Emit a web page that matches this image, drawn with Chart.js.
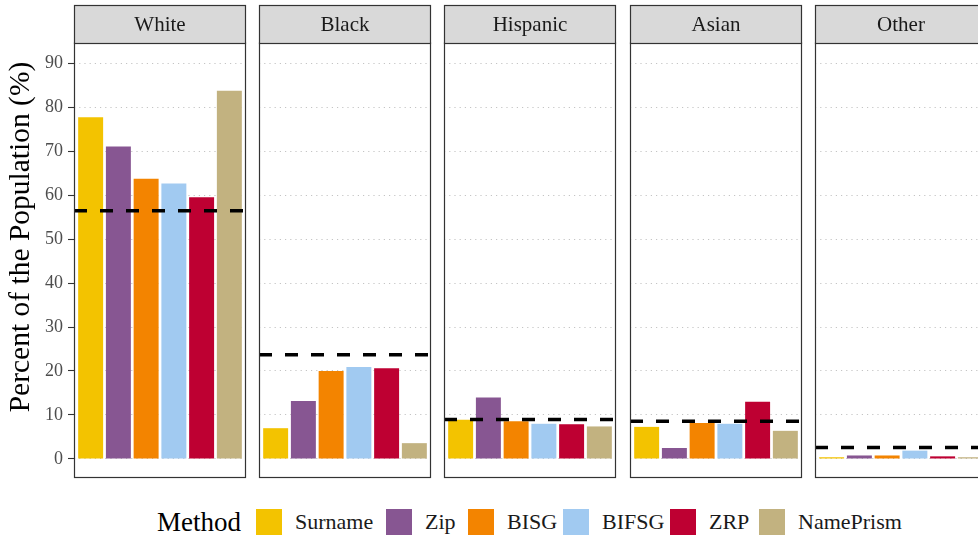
<!DOCTYPE html>
<html>
<head>
<meta charset="utf-8">
<script src="https://cdn.jsdelivr.net/npm/chart.js@4.4.1/dist/chart.umd.min.js"></script>
<style>
  html, body { margin: 0; padding: 0; background: #fff; }
  body { width: 978px; height: 537px; overflow: hidden; position: relative;
         font-family: "Liberation Serif", serif; }
  canvas { position: absolute; top: 0; }
  .lg-title { position: absolute; left: 157px; top: 505px; font-size: 27px; color: #000; line-height: 34px; }
  .lg-key { position: absolute; top: 509px; width: 26px; height: 26px; }
  .lg-label { position: absolute; top: 508px; font-size: 22px; color: #1a1a1a; line-height: 28px; white-space: nowrap; }
</style>
</head>
<body>
<script>
// ---- data -------------------------------------------------------------
const races   = ['White', 'Black', 'Hispanic', 'Asian', 'Other'];
const methods = ['Surname', 'Zip', 'BISG', 'BIFSG', 'ZRP', 'NamePrism'];

// Predicted share (%) of each group, by method (order follows `methods`)
const whiteShare    = [77.7, 71.0, 63.7, 62.6, 59.5, 83.7];
const blackShare    = [7.0, 13.2, 20.0, 20.9, 20.6, 3.6];
const hispanicShare = [8.9, 14.0, 8.6, 8.0, 7.9, 7.4];
const asianShare    = [7.3, 2.5, 8.2, 8.0, 13.0, 6.4];
const otherShare    = [0.4, 0.8, 0.8, 1.9, 0.6, 0.4];

// Actual population share (%) — dashed reference line per panel
const populationShare = [56.4, 23.7, 9.0, 8.6, 2.6];

const yTicks = [0, 10, 20, 30, 40, 50, 60, 70, 80, 90];

// ---- styling ----------------------------------------------------------
const methodColors = ['#F3C300', '#875692', '#F38400', '#A1CAF1', '#BE0032', '#C2B280'];
const seriesByRace = [whiteShare, blackShare, hispanicShare, asianShare, otherShare];

const PANEL_LEFT = [74, 259, 444, 630, 815];
const PANEL_W = 172;
const STRIP_TOP = 5;
const AREA_TOP = 43;
const AREA_BOTTOM = 478;
const CANVAS_H = 505;
const Y_MIN = -4.32, Y_MAX = 94.55;
const X_MIN = -0.6, X_MAX = methods.length - 1 + 0.6;
const FONT = '"Liberation Serif", serif';

Chart.defaults.font.family = FONT;

// Panel border, facet strip and (first panel) the y-axis title
const panelFrame = {
  id: 'panelFrame',
  afterDraw(chart, args, opts) {
    const { ctx, chartArea: a } = chart;
    ctx.save();
    ctx.strokeStyle = '#333333';
    ctx.lineWidth = 1.2;
    ctx.strokeRect(a.left + 0.5, a.top, a.width - 1, a.height - 0.5);
    ctx.fillStyle = '#d9d9d9';
    ctx.fillRect(a.left + 0.5, STRIP_TOP + 0.5, a.width - 1, a.top - STRIP_TOP);
    ctx.strokeRect(a.left + 0.5, STRIP_TOP + 0.5, a.width - 1, a.top - STRIP_TOP);
    ctx.fillStyle = '#1a1a1a';
    ctx.font = '21px ' + FONT;
    ctx.textAlign = 'center';
    ctx.textBaseline = 'middle';
    ctx.fillText(opts.label, (a.left + a.right) / 2, (STRIP_TOP + a.top) / 2 + 1);
    if (opts.yTitle) {
      ctx.translate(21, 237);
      ctx.rotate(-Math.PI / 2);
      ctx.fillStyle = '#000';
      ctx.font = '29.5px ' + FONT;
      ctx.fillText(opts.yTitle, 0, 0);
    }
    ctx.restore();
  }
};

function drawPanel(idx) {
  const first = idx === 0;
  const canvasLeft = first ? 0 : PANEL_LEFT[idx] - 1;
  const canvasW = PANEL_LEFT[idx] + PANEL_W + 1 - canvasLeft;
  const canvas = document.createElement('canvas');
  canvas.width = canvasW;
  canvas.height = CANVAS_H;
  canvas.style.left = canvasLeft + 'px';
  canvas.style.width = canvasW + 'px';
  canvas.style.height = CANVAS_H + 'px';
  document.body.appendChild(canvas);

  const values = seriesByRace[idx];
  const ref = populationShare[idx];

  new Chart(canvas, {
    type: 'bar',
    data: {
      datasets: [
        {
          type: 'line',
          data: [{ x: X_MIN, y: ref }, { x: X_MAX, y: ref }],
          borderColor: '#000',
          borderWidth: 3.5,
          borderDash: [13, 13],
          pointRadius: 0,
          order: 0
        },
        {
          type: 'bar',
          data: values.map((v, i) => ({ x: i, y: v })),
          backgroundColor: methodColors,
          borderWidth: 0,
          barPercentage: 0.9,
          categoryPercentage: 1,
          order: 1
        }
      ]
    },
    options: {
      responsive: false,
      animation: false,
      events: [],
      layout: { padding: { top: AREA_TOP, bottom: CANVAS_H - AREA_BOTTOM, left: first ? 0 : 1, right: 1 } },
      plugins: {
        legend: { display: false },
        tooltip: { enabled: false },
        panelFrame: { label: races[idx], yTitle: first ? 'Percent of the Population (%)' : null }
      },
      scales: {
        x: { type: 'linear', min: X_MIN, max: X_MAX, offset: false, display: false },
        y: {
          type: 'linear',
          min: Y_MIN,
          max: Y_MAX,
          afterBuildTicks: axis => { axis.ticks = yTicks.map(v => ({ value: v })); },
          afterFit: axis => { axis.width = first ? PANEL_LEFT[0] : 0; },
          ticks: { display: first, color: '#4d4d4d', font: { size: 18, family: FONT }, padding: 5 },
          grid: {
            color: '#c4c4c4',
            lineWidth: 1,
            drawTicks: first,
            tickLength: 6,
            tickColor: '#333333',
            tickWidth: 1.1,
            tickBorderDash: []
          },
          border: { display: false, dash: [1.2, 4] }
        }
      }
    },
    plugins: [panelFrame]
  });
}

races.forEach((r, i) => drawPanel(i));

// Legend for the fill colours
const LEGEND_KEY_LEFT = [256, 386, 468, 563, 670, 759];
const title = document.createElement('div');
title.className = 'lg-title';
title.textContent = 'Method';
document.body.appendChild(title);
methods.forEach((m, i) => {
  const key = document.createElement('div');
  key.className = 'lg-key';
  key.style.left = LEGEND_KEY_LEFT[i] + 'px';
  key.style.background = methodColors[i];
  document.body.appendChild(key);
  const label = document.createElement('div');
  label.className = 'lg-label';
  label.style.left = (LEGEND_KEY_LEFT[i] + 39) + 'px';
  label.textContent = m;
  document.body.appendChild(label);
});
</script>
</body>
</html>
